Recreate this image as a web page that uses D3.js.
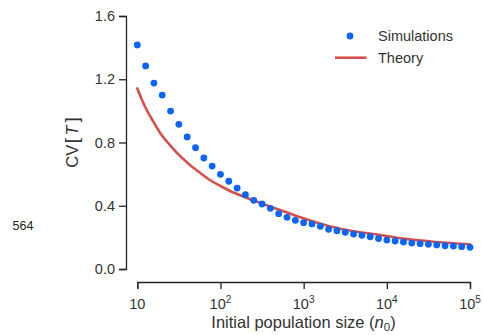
<!DOCTYPE html>
<html>
<head>
<meta charset="utf-8">
<script src="https://cdn.jsdelivr.net/npm/d3@7"></script>
<style>
  html, body { margin: 0; padding: 0; background: #fff; }
  svg { display: block; font-family: "Liberation Sans", Arial, Helvetica, sans-serif; }
</style>
</head>
<body>
<svg id="chart" width="483" height="335"></svg>
<script>
// Simulated CV[T] against initial population size, 10 samples per decade
const simN = [
  10, 12.59, 15.85, 19.95, 25.12, 31.62, 39.81, 50.12, 63.1, 79.43,
  100, 125.9, 158.5, 199.5, 251.2, 316.2, 398.1, 501.2, 631, 794.3,
  1000, 1259, 1585, 1995, 2512, 3162, 3981, 5012, 6310, 7943,
  10000, 12590, 15850, 19950, 25120, 31620, 39810, 50120, 63100, 79430,
  100000
];
const simCV = [
  1.417, 1.284, 1.176, 1.100, 0.999, 0.915, 0.835, 0.767, 0.702, 0.651,
  0.599, 0.555, 0.512, 0.470, 0.434, 0.411, 0.384, 0.350, 0.327, 0.308,
  0.293, 0.285, 0.270, 0.251, 0.242, 0.232, 0.221, 0.213, 0.204, 0.193,
  0.183, 0.177, 0.171, 0.164, 0.160, 0.156, 0.152, 0.147, 0.145, 0.141,
  0.137
];

// Theoretical prediction
const theoryN = [
  10, 12.4, 15.6, 19.6, 24.7, 32.6, 43, 56.6, 74.6, 100,
  129, 195, 324, 519, 824, 1303, 1995, 3289, 8260, 15740, 39630, 100000
];
const theoryCV = [
  1.142, 1.026, 0.932, 0.847, 0.784, 0.715, 0.658, 0.609, 0.563, 0.525,
  0.495, 0.455, 0.412, 0.373, 0.335, 0.300, 0.272, 0.247, 0.215, 0.192,
  0.171, 0.156
];

const yTicks = [0, 0.4, 0.8, 1.2, 1.6];
const xTicks = [10, 100, 1000, 10000, 100000];
const xTickExp = [null, "2", "3", "4", "5"];

const legendItems = ["Simulations", "Theory"];

const simColor = "#0a64f5";
const theoryColor = "#d6504a";
const inkColor = "#333333";

const svg = d3.select("#chart");

const x = d3.scaleLog().domain([10, 100000]).range([137.3, 470]);
const y = d3.scaleLinear().domain([0, 1.6]).range([269, 16]);

// Offset y axis
const yAxis = svg.append("g")
  .attr("transform", "translate(126,0)")
  .call(d3.axisLeft(y).tickValues(yTicks).tickFormat(d3.format(".1f")).tickSizeOuter(0).tickSize(7).tickPadding(4));

// Offset x axis
const xAxis = svg.append("g")
  .attr("transform", "translate(0,282)")
  .call(d3.axisBottom(x).tickValues(xTicks).tickFormat(() => "").tickSizeOuter(0).tickSize(7));

[yAxis, xAxis].forEach(g => {
  g.select(".domain").attr("stroke", "#222").attr("stroke-width", 1.3);
  g.selectAll(".tick line").attr("stroke", "#222").attr("stroke-width", 1.3);
  g.selectAll(".tick text").attr("fill", inkColor).style("font-size", "14.5px")
    .style("font-family", "'Liberation Sans', Arial, sans-serif");
});

// Power-of-ten tick labels with superscript exponents
xTicks.forEach((t, i) => {
  const txt = svg.append("text")
    .attr("x", x(t))
    .attr("y", 309)
    .attr("text-anchor", "middle")
    .attr("fill", inkColor)
    .style("font-size", "14.5px");
  txt.append("tspan").text("10");
  if (xTickExp[i]) {
    txt.append("tspan").attr("dy", -6).style("font-size", "10px").text(xTickExp[i]);
  }
});

// Axis titles
const xTitle = svg.append("text")
  .attr("x", 303.5)
  .attr("y", 328)
  .attr("text-anchor", "middle")
  .attr("fill", inkColor)
  .style("font-size", "16.5px");
xTitle.append("tspan").text("Initial population size (");
xTitle.append("tspan").style("font-style", "italic").text("n");
xTitle.append("tspan").attr("dy", 3).style("font-size", "11.5px").text("0");
xTitle.append("tspan").attr("dy", -3).text(")");

const yTitle = svg.append("text")
  .attr("transform", "translate(77.5,142.5) rotate(-90)")
  .attr("text-anchor", "middle")
  .attr("fill", inkColor)
  .style("font-size", "16.5px");
yTitle.append("tspan").text("CV");
yTitle.append("tspan").attr("dx", 1.5).style("font-size", "19px").text("[");
yTitle.append("tspan").attr("dx", 2.5).style("font-style", "italic").text("T");
yTitle.append("tspan").attr("dx", 3).style("font-size", "19px").text("]");

// Stray panel number on the left margin
svg.append("text")
  .attr("x", 12.5)
  .attr("y", 230)
  .attr("fill", "#222")
  .style("font-size", "12.5px")
  .text("564");

// Theory curve
const theory = theoryN.map((n, i) => ({ n, v: theoryCV[i] }));
svg.append("path")
  .datum(theory)
  .attr("fill", "none")
  .attr("stroke", theoryColor)
  .attr("stroke-width", 2.6)
  .attr("stroke-linecap", "round")
  .attr("d", d3.line().x(d => x(d.n)).y(d => y(d.v)).curve(d3.curveMonotoneX));

// Simulation points
const sims = simN.map((n, i) => ({ n, v: simCV[i] }));
svg.append("g").selectAll("circle")
  .data(sims)
  .join("circle")
  .attr("cx", d => x(d.n))
  .attr("cy", d => y(d.v))
  .attr("r", 3.4)
  .attr("fill", simColor);

// Legend
const legend = svg.append("g");
legend.append("circle").attr("cx", 350).attr("cy", 36).attr("r", 3.4).attr("fill", simColor);
legend.append("line").attr("x1", 335).attr("x2", 366.5).attr("y1", 57.7).attr("y2", 57.7)
  .attr("stroke", theoryColor).attr("stroke-width", 2.6);
legend.selectAll("text")
  .data(legendItems)
  .join("text")
  .attr("x", 378)
  .attr("y", (d, i) => 41 + i * 21.5)
  .attr("fill", inkColor)
  .style("font-size", "14.5px")
  .text(d => d);
</script>
</body>
</html>
